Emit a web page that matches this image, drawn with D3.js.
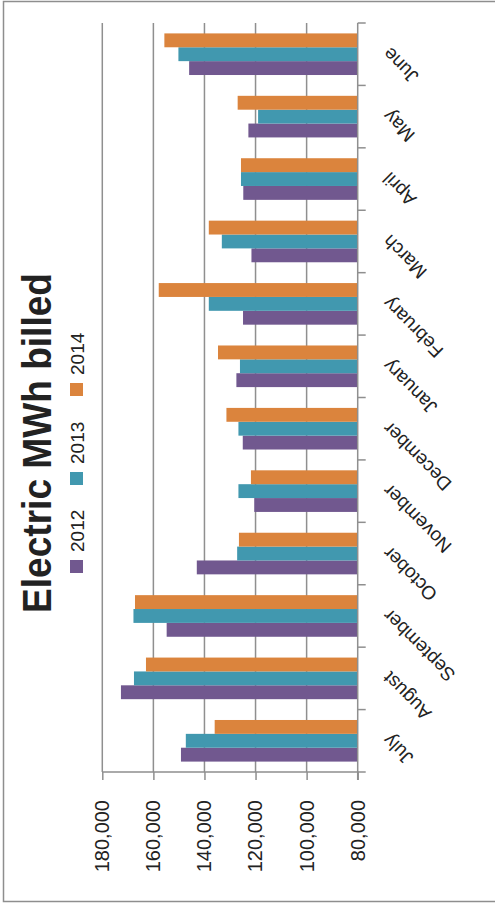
<!DOCTYPE html>
<html>
<head>
<meta charset="utf-8">
<script src="https://cdn.jsdelivr.net/npm/d3@7"></script>
<style>
html,body{margin:0;padding:0;background:#fff;}
svg{display:block;}
</style>
</head>
<body>
<script>
// ---- data ----
const months = ["July","August","September","October","November","December","January","February","March","April","May","June"];
const seriesNames = ["2012","2013","2014"];
const values2012 = [149200,172700,154800,143000,120500,125000,127500,124900,121600,124800,122800,146000];
const values2013 = [147300,167600,167800,127200,126700,126700,126100,138300,133200,125700,119000,150200];
const values2014 = [136000,162900,167200,126500,121800,131400,134700,157900,138300,125700,127000,155700];
const tickValues = [80000,100000,120000,140000,160000,180000];
const colors = ["#71588F","#4198AF","#DB843D"];

const W = 495, H = 903;
const svg = d3.select("body").append("svg").attr("width", W).attr("height", H);

// outer chart border
svg.append("rect").attr("x",3.5).attr("y",1.5).attr("width",600).attr("height",900)
  .attr("fill","none").attr("stroke","#8e8e8e").attr("stroke-width",1.5);

// whole chart drawn as a column chart, then rotated -90deg
const g = svg.append("g").attr("transform",`translate(0,${H}) rotate(-90)`);

const x0 = d3.scaleBand().domain(months).range([131, 880]).paddingInner(0).paddingOuter(0);
const inner = 1/4.5; // gap width 150%
const y = d3.scaleLinear().domain([80000,180000]).range([357.7,102.3]);

// gridlines
g.append("g").selectAll("line").data(tickValues.slice(1)).join("line")
  .attr("x1",131).attr("x2",880).attr("y1",d=>y(d)).attr("y2",d=>y(d))
  .attr("stroke","#8f8f8f").attr("stroke-width",1.5);

// bars
const data = [values2012, values2013, values2014];
const bw = x0.bandwidth()*inner;
const gap = (x0.bandwidth() - 3*bw)/2;
data.forEach((vals, s) => {
  g.append("g").selectAll("rect").data(vals).join("rect")
    .attr("x",(d,i)=>x0(months[i]) + gap + s*bw)
    .attr("width",bw)
    .attr("y",d=>y(d))
    .attr("height",d=>y(80000)-y(d))
    .attr("fill",colors[s]);
});

// value axis (left in original orientation)
const yAxis = d3.axisLeft(y).tickValues(tickValues).tickSize(8).tickPadding(20)
  .tickFormat(d3.format(","));
const ya = g.append("g").attr("transform","translate(131,0)").call(yAxis);
ya.select(".domain").attr("stroke","#8f8f8f").attr("stroke-width",1.5).attr("d",`M-8,${y(80000)}H0V${y(180000)}`);
ya.selectAll(".tick line").attr("stroke","#8f8f8f").attr("stroke-width",1.5);
ya.selectAll(".tick text").attr("font-family","Liberation Sans, Arial, sans-serif")
  .attr("font-size",20).attr("fill","#222");

// category axis (bottom in original orientation)
const xAxis = d3.axisBottom(x0).tickSize(0).tickFormat("");
const xa = g.append("g").attr("transform",`translate(0,${y(80000)})`).call(xAxis);
xa.select(".domain").attr("stroke","#8f8f8f").attr("stroke-width",1.5).attr("d","M131,0H880");
xa.selectAll(".tick").remove();
// boundary ticks
const bounds = months.map(m=>x0(m)).concat([880]);
xa.append("g").selectAll("line").data(bounds).join("line")
  .attr("x1",d=>d).attr("x2",d=>d).attr("y1",0).attr("y2",8)
  .attr("stroke","#8f8f8f").attr("stroke-width",1.5);
// rotated labels
xa.append("g").selectAll("text").data(months).join("text")
  .attr("transform",d=>`translate(${x0(d)+x0.bandwidth()/2+8},33) rotate(-45)`)
  .attr("text-anchor","end")
  .attr("font-family","Liberation Sans, Arial, sans-serif")
  .attr("font-size",19).attr("fill","#222")
  .text(d=>d);

// title
g.append("text").attr("x",460).attr("y",51)
  .attr("text-anchor","middle")
  .attr("font-family","Liberation Sans, Arial, sans-serif")
  .attr("font-weight","bold").attr("font-size",40).attr("fill","#222")
  .attr("textLength",340).attr("lengthAdjust","spacingAndGlyphs")
  .text("Electric MWh billed");

// legend
const legX = [330,418,507];
const leg = g.append("g").selectAll("g").data(seriesNames).join("g")
  .attr("transform",(d,i)=>`translate(${legX[i]},70)`);
leg.append("rect").attr("width",13).attr("height",13).attr("fill",(d,i)=>colors[i]);
leg.append("text").attr("x",21).attr("y",13.5)
  .attr("font-family","Liberation Sans, Arial, sans-serif")
  .attr("font-size",19).attr("fill","#222").text(d=>d);
</script>
</body>
</html>
